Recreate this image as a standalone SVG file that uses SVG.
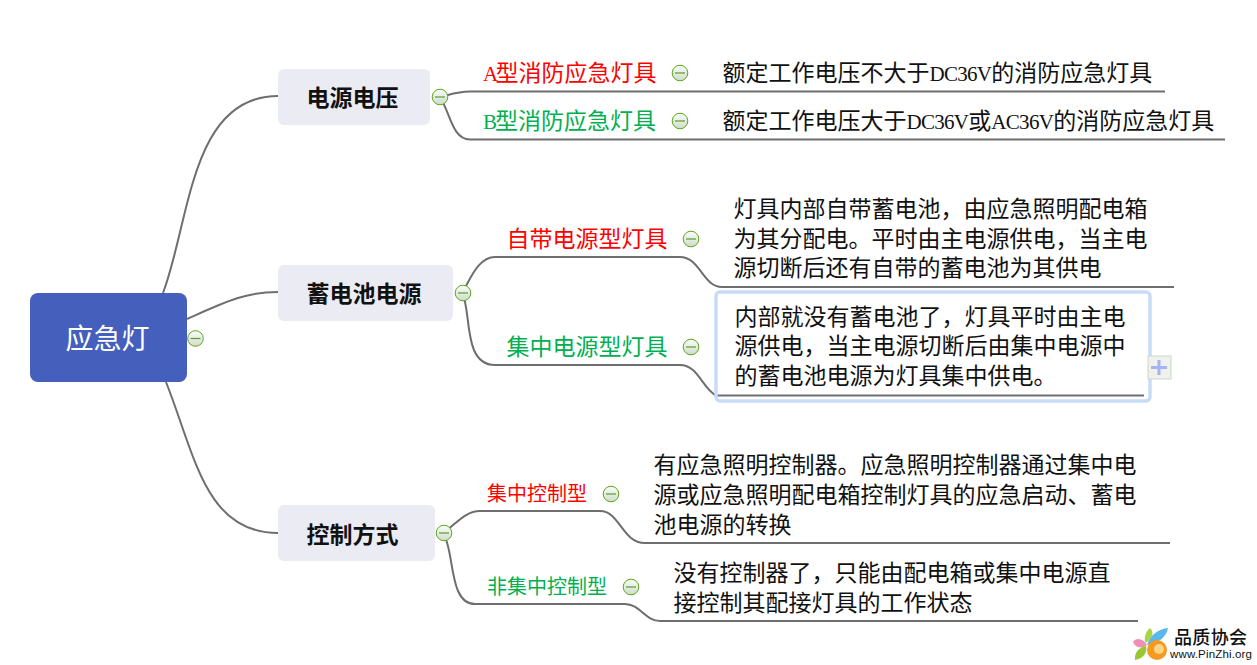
<svg xmlns="http://www.w3.org/2000/svg" width="1257" height="665" viewBox="0 0 1257 665">
<style>
text{font-family:"Noto Sans CJK SC","Liberation Sans",sans-serif;fill:#111}
.d{font-size:23px}
.l{font-family:"Liberation Serif",serif;font-size:21px;letter-spacing:-.7px}
.a{letter-spacing:-2.800px}
.bb{letter-spacing:-2px}
.b{font-size:23px;font-weight:700}
.r{fill:#ff0000}.g{fill:#00b050}
.sm{font-size:20px}
.n{fill:#eaebf3}
.c{fill:none;stroke:#6e6e6e;stroke-width:2}
.i{fill:url(#ig);stroke:#5ea61c;stroke-width:1}
.m{stroke:#5a9a3c;stroke-width:1.2}
</style>
<defs>
<linearGradient id="ig" x1="0" y1="0" x2="0" y2="1"><stop offset="0" stop-color="#fbfdf9"/><stop offset="1" stop-color="#cfdcc8"/></linearGradient>
<symbol id="col" viewBox="-9 -9 18 18" overflow="visible"><circle class="i" r="7.800"/><path class="m" d="M-5,0H5"/></symbol>
</defs>
<g id="connectors">
<path class="c" d="M163,293C190,222 190,96 278,96"/>
<path class="c" d="M187,319C225,302 245,292 278,292"/>
<path class="c" d="M166,382C195,455 205,533 278,533"/>
<path class="c" d="M440,97C452,94 458,91.500 470,91.500H1165"/>
<path class="c" d="M440,97C450,112 452,139.500 470,139.500H1225"/>
<path class="c" d="M462,293C470,280 478,257 495,257H680C700,257 703,287 722,287H1174"/>
<path class="c" d="M462,293C472,310 462,365 495,365H680C698,365 702,388 716,395.500H1144"/>
<path class="c" d="M443,533C455,525 465,511 480,511H600C620,511 622,543 645,543H1170"/>
<path class="c" d="M443,533C455,550 448,604 475,604H625C640,604 645,621 660,621H1138"/>
</g>
<g id="root"><rect x="30" y="293" width="157" height="89" rx="8" fill="#4460bc"/><text x="65.500" y="349" font-size="28" style="fill:#fff">应急灯</text><use href="#col" x="186.500" y="329.500" width="18" height="18"/></g>
<g id="n1"><rect class="n" x="278" y="69" width="152" height="56" rx="6"/><text class="b" x="306.500" y="106">电源电压</text><use href="#col" x="431" y="88" width="18" height="18"/></g>
<g id="n2"><rect class="n" x="278" y="265" width="175" height="56" rx="6"/><text class="b" x="306.500" y="302">蓄电池电源</text><use href="#col" x="454" y="284" width="18" height="18"/></g>
<g id="n3"><rect class="n" x="278" y="505" width="157" height="56" rx="6"/><text class="b" x="306.500" y="543">控制方式</text><use href="#col" x="435" y="524" width="18" height="18"/></g>
<g id="a1"><text class="d r" x="483" y="81"><tspan class="l a r">A</tspan>型消防应急灯具</text><use href="#col" x="671" y="64" width="18" height="18"/></g>
<g id="a1d"><text class="d" x="722.500" y="81">额定工作电压不大于<tspan class="l">DC36V</tspan>的消防应急灯具</text></g>
<g id="a2"><text class="d g" x="483" y="129"><tspan class="l bb g">B</tspan>型消防应急灯具</text><use href="#col" x="671" y="112" width="18" height="18"/></g>
<g id="a2d"><text class="d" x="722.500" y="129">额定工作电压大于<tspan class="l">DC36V</tspan>或<tspan class="l">AC36V</tspan>的消防应急灯具</text></g>
<g id="b1"><text class="d r" x="506.500" y="247">自带电源型灯具</text><use href="#col" x="682" y="230" width="18" height="18"/></g>
<g id="b1d"><text class="d" x="733.500" y="217">灯具内部自带蓄电池，由应急照明配电箱</text><text class="d" x="733.500" y="247">为其分配电。平时由主电源供电，当主电</text><text class="d" x="733.500" y="276">源切断后还有自带的蓄电池为其供电</text></g>
<g id="b2"><text class="d g" x="506.500" y="355">集中电源型灯具</text><use href="#col" x="682" y="338" width="18" height="18"/></g>
<g id="b2d"><rect x="716" y="292" width="434" height="109" rx="4" fill="none" stroke="#c9dcf7" stroke-width="3.500"/><text class="d" x="734.500" y="325">内部就没有蓄电池了，灯具平时由主电</text><text class="d" x="734.500" y="354">源供电，当主电源切断后由集中电源中</text><text class="d" x="734.500" y="384">的蓄电池电源为灯具集中供电。</text><rect x="1148" y="356" width="23" height="23" fill="#eef1ec" stroke="#ccd6cc"/><path d="M1151,367.500H1167M1159,360V375" stroke="#a3b4f5" stroke-width="3"/></g>
<g id="c1"><text class="sm r" x="487" y="501">集中控制型</text><use href="#col" x="602" y="485" width="18" height="18"/></g>
<g id="c1d"><text class="d" x="653.500" y="473">有应急照明控制器。应急照明控制器通过集中电</text><text class="d" x="653.500" y="503">源或应急照明配电箱控制灯具的应急启动、蓄电</text><text class="d" x="653.500" y="533">池电源的转换</text></g>
<g id="c2"><text class="sm g" x="487" y="594">非集中控制型</text><use href="#col" x="622" y="578" width="18" height="18"/></g>
<g id="c2d"><text class="d" x="673.500" y="581">没有控制器了，只能由配电箱或集中电源直</text><text class="d" x="673.500" y="611">接控制其配接灯具的工作状态</text></g>
<g id="logo">
<path d="M1147,645C1150,635 1158,629 1168,628C1167,636 1158,644 1147,645Z" fill="#5bb8e8"/>
<path d="M1145,643C1144,636 1146,631 1150,628C1155,632 1152,640 1145,643Z" fill="#a9d44b"/>
<path d="M1133,642C1136,637 1143,638 1147,645C1142,649 1135,648 1133,642Z" fill="#f08fb5"/>
<path d="M1135,660C1134,653 1139,647 1146,646C1148,652 1143,659 1135,660Z" fill="#9ac832"/>
<circle cx="1157" cy="650" r="10" fill="#f59a1f"/><circle cx="1159" cy="649" r="5" fill="#fcd58a"/>
<text x="1174" y="644" font-size="18" font-weight="500" textLength="73">品质协会</text>
<text x="1170" y="658" font-size="11.500" style="font-family:'Liberation Sans',sans-serif" textLength="82">www.PinZhi.org</text>
</g>
</svg>
